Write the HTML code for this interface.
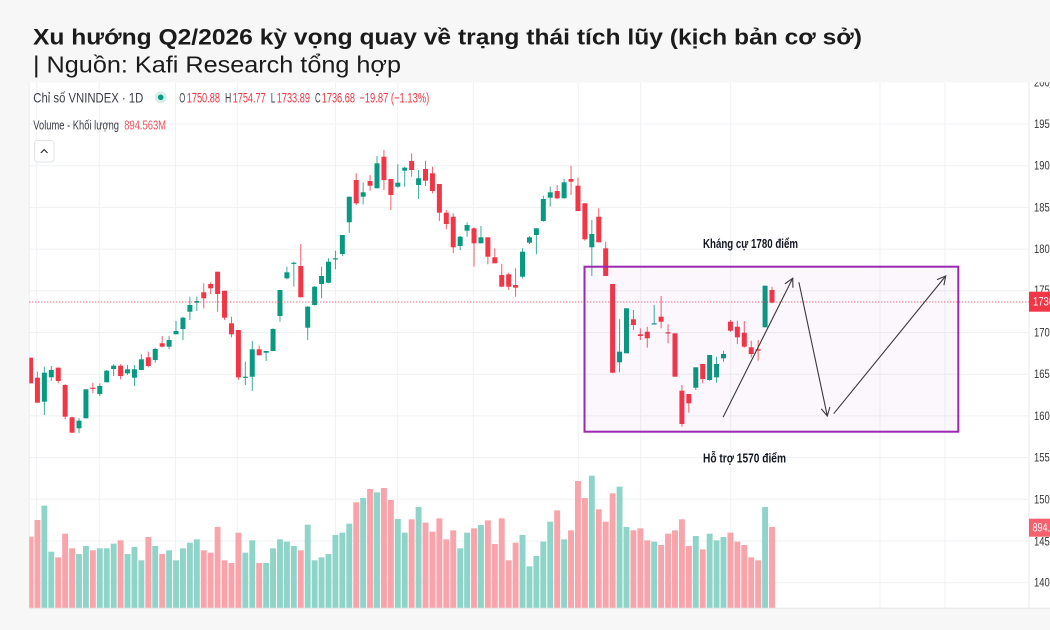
<!DOCTYPE html>
<html>
<head>
<meta charset="utf-8">
<style>
html,body{margin:0;padding:0;background:#f7f7f7;width:1050px;height:630px;overflow:hidden}
svg{display:block}
text{font-family:"Liberation Sans","Noto Sans CJK SC",sans-serif}
</style>
</head>
<body>
<svg id="root" width="1050" height="630" viewBox="0 0 1050 630" xmlns="http://www.w3.org/2000/svg">
<defs>
<clipPath id="plotClip"><rect x="29.3" y="82.3" width="999.7" height="526"/></clipPath>
<clipPath id="axisClip"><rect x="1029" y="82.3" width="21" height="526"/></clipPath>
</defs>
<rect width="1050" height="630" fill="#f7f7f7"/>
<text x="33" y="44.3" font-size="22" font-weight="bold" fill="#1b1b1b" textLength="829" lengthAdjust="spacingAndGlyphs">Xu hướng Q2/2026 kỳ vọng quay về trạng thái tích lũy (kịch bản cơ sở)</text>
<text x="33" y="72.7" font-size="23" fill="#1b1b1b" textLength="368" lengthAdjust="spacingAndGlyphs">| Nguồn: Kafi Research tổng hợp</text>

<rect x="29.3" y="82.3" width="1020.7" height="526" fill="#ffffff"/>

<g stroke="#eff1f4" stroke-width="1">
<line x1="29.3" x2="1029" y1="124.0" y2="124.0"/>
<line x1="29.3" x2="1029" y1="165.7" y2="165.7"/>
<line x1="29.3" x2="1029" y1="207.4" y2="207.4"/>
<line x1="29.3" x2="1029" y1="249.1" y2="249.1"/>
<line x1="29.3" x2="1029" y1="290.8" y2="290.8"/>
<line x1="29.3" x2="1029" y1="332.5" y2="332.5"/>
<line x1="29.3" x2="1029" y1="374.2" y2="374.2"/>
<line x1="29.3" x2="1029" y1="415.9" y2="415.9"/>
<line x1="29.3" x2="1029" y1="457.6" y2="457.6"/>
<line x1="29.3" x2="1029" y1="499.3" y2="499.3"/>
<line x1="29.3" x2="1029" y1="541.0" y2="541.0"/>
<line x1="29.3" x2="1029" y1="582.7" y2="582.7"/>
<line y1="82.3" y2="608.3" x1="36.7" x2="36.7"/>
<line y1="82.3" y2="608.3" x1="99.3" x2="99.3"/>
<line y1="82.3" y2="608.3" x1="175.5" x2="175.5"/>
<line y1="82.3" y2="608.3" x1="237.3" x2="237.3"/>
<line y1="82.3" y2="608.3" x1="335.5" x2="335.5"/>
<line y1="82.3" y2="608.3" x1="397.7" x2="397.7"/>
<line y1="82.3" y2="608.3" x1="473.3" x2="473.3"/>
<line y1="82.3" y2="608.3" x1="578.3" x2="578.3"/>
<line y1="82.3" y2="608.3" x1="640.7" x2="640.7"/>
<line y1="82.3" y2="608.3" x1="730.7" x2="730.7"/>
<line y1="82.3" y2="608.3" x1="880" x2="880"/>
<line y1="82.3" y2="608.3" x1="945" x2="945"/>
</g>
<line x1="1029" x2="1029" y1="82.3" y2="608.3" stroke="#e6e8ee" stroke-width="1"/>
<line x1="29.3" x2="1050" y1="608.3" y2="608.3" stroke="#e3e5ea" stroke-width="1"/>
<line x1="29.3" x2="29.3" y1="82.3" y2="608.3" stroke="#eceef2" stroke-width="1"/>

<g id="plot" clip-path="url(#plotClip)"></g>

<line x1="29.3" x2="1029" y1="302" y2="302" stroke="#f23645" stroke-width="1" stroke-dasharray="1 2"/>

<rect x="584.5" y="266.7" width="373.8" height="165" fill="rgba(156,39,176,0.04)" stroke="#9c27b0" stroke-width="2"/>
<g id="arrows" stroke="#3a3a3a" stroke-width="1.1" fill="none" stroke-linecap="round"></g>

<text x="703" y="248" font-size="13" font-weight="bold" fill="#131722" textLength="95" lengthAdjust="spacingAndGlyphs">Kháng cự 1780 điểm</text>
<text x="703" y="462.5" font-size="13" font-weight="bold" fill="#131722" textLength="83" lengthAdjust="spacingAndGlyphs">Hỗ trợ 1570 điểm</text>

<text x="33.3" y="102.3" font-size="14" fill="#3b3e45" textLength="110" lengthAdjust="spacingAndGlyphs">Chỉ số VNINDEX · 1D</text>
<circle cx="160.7" cy="97.3" r="6" fill="#d5efe9"/>
<circle cx="160.7" cy="97.3" r="2.8" fill="#089981"/>
<g font-size="14">
<text x="179.3" y="102.3" fill="#3b3e45" textLength="6" lengthAdjust="spacingAndGlyphs">O</text>
<text x="186.7" y="102.3" fill="#f23645" textLength="33.3" lengthAdjust="spacingAndGlyphs">1750.88</text>
<text x="225" y="102.3" fill="#3b3e45" textLength="6.3" lengthAdjust="spacingAndGlyphs">H</text>
<text x="232.7" y="102.3" fill="#f23645" textLength="33" lengthAdjust="spacingAndGlyphs">1754.77</text>
<text x="270.7" y="102.3" fill="#3b3e45" textLength="4.7" lengthAdjust="spacingAndGlyphs">L</text>
<text x="276.7" y="102.3" fill="#f23645" textLength="33.3" lengthAdjust="spacingAndGlyphs">1733.89</text>
<text x="315" y="102.3" fill="#3b3e45" textLength="5.7" lengthAdjust="spacingAndGlyphs">C</text>
<text x="321.7" y="102.3" fill="#f23645" textLength="33.3" lengthAdjust="spacingAndGlyphs">1736.68</text>
<text x="359.3" y="102.3" fill="#f23645" textLength="70" lengthAdjust="spacingAndGlyphs">−19.87 (−1.13%)</text>
</g>
<text x="33.3" y="129.5" font-size="12.5" fill="#3b3e45" textLength="85.7" lengthAdjust="spacingAndGlyphs">Volume - Khối lượng</text>
<text x="124.3" y="129.5" font-size="12.5" fill="#f7525f" textLength="41.7" lengthAdjust="spacingAndGlyphs">894.563M</text>
<rect x="34.5" y="140.5" width="19.5" height="21.5" rx="3" fill="#fff" stroke="#e0e3eb" stroke-width="1"/>
<polyline points="40.8,153 44.2,149.6 47.6,153" fill="none" stroke="#333" stroke-width="1.2"/>

<g clip-path="url(#axisClip)" font-size="11.5" fill="#333">
<text x="1034" y="86.3" textLength="21" lengthAdjust="spacingAndGlyphs">2000</text>
<text x="1034" y="128.0" textLength="21" lengthAdjust="spacingAndGlyphs">1950</text>
<text x="1034" y="169.7" textLength="21" lengthAdjust="spacingAndGlyphs">1900</text>
<text x="1034" y="211.4" textLength="21" lengthAdjust="spacingAndGlyphs">1850</text>
<text x="1034" y="253.1" textLength="21" lengthAdjust="spacingAndGlyphs">1800</text>
<text x="1034" y="293.8" textLength="21" lengthAdjust="spacingAndGlyphs">1750</text>
<text x="1034" y="336.5" textLength="21" lengthAdjust="spacingAndGlyphs">1700</text>
<text x="1034" y="378.2" textLength="21" lengthAdjust="spacingAndGlyphs">1650</text>
<text x="1034" y="419.9" textLength="21" lengthAdjust="spacingAndGlyphs">1600</text>
<text x="1034" y="461.6" textLength="21" lengthAdjust="spacingAndGlyphs">1550</text>
<text x="1034" y="503.3" textLength="21" lengthAdjust="spacingAndGlyphs">1500</text>
<text x="1034" y="545.5" textLength="21" lengthAdjust="spacingAndGlyphs">1450</text>
<text x="1034" y="586.7" textLength="21" lengthAdjust="spacingAndGlyphs">1400</text>
<rect x="1029" y="291.7" width="22" height="20" fill="#f23645"/>
<text x="1033" y="305.6" fill="#fff" textLength="34" lengthAdjust="spacingAndGlyphs">1736.68</text>
<rect x="1029" y="518.7" width="22" height="18" fill="#f7606c"/>
<text x="1032.5" y="531.7" fill="#fff" textLength="40" lengthAdjust="spacingAndGlyphs">894.563M</text>
</g>
</svg>
<script>
(function(){
var NS="http://www.w3.org/2000/svg";
function el(n,a,p){var e=document.createElementNS(NS,n);for(var k in a)e.setAttribute(k,a[k]);p.appendChild(e);return e;}
var plot=document.getElementById('plot');
var C=[
["R",357.7,383.3,357.7,383.3],["R",377.7,402.7,371.7,402.7],["G",372.7,401.7,366.7,415],["G",370,377.3,366,381],["R",367.7,381,367.3,383.3],
["R",385,416.7,384.3,419.3],["R",417.3,432.7,416.7,432.7],["G",420.7,428.3,418.3,433.3],["G",389.3,418.3,389.3,418.3],["R",387.7,388.7,382.7,393.3],
["G",386,394,383.3,396],["G",370.7,382.3,370,382.3],["G",365.7,369,364.3,376],["R",365.7,376,364.3,379.3],["G",369.3,373.3,365,375],
["G",369.3,377.7,365,386],["G",359.3,370,354.3,370],["R",357.3,366,351.7,367.3],["G",349,360,347.7,362.7],["R",343.3,346.7,336,347.3],
["G",340,346.7,336,349.3],["G",331,334.3,321,334.3],["G",317.7,329,316.7,340],["G",305,311.7,296.7,320],["G",301,302.7,296.7,311],
["R",292.3,298.3,283.3,308.3],["R",284,288.3,282.3,294],["R",271.7,294,271.7,311.7],["R",290.7,317.7,290.7,320],["R",323.3,334.3,316.7,337.3],
["R",330,377.3,330,380],["G",376.7,377.7,361.7,385],["G",349.3,376.7,341,391],["R",349.3,355.3,345.7,355.3],["G",351,352.7,351,361],
["G",329,351,328.3,351],["G",290,316,290,321.7],["G",272.3,278.3,266.7,279.3],["G",262.7,263.7,261.7,286.7],["R",266,297.3,244,297.3],
["G",306.7,327.7,306,340],["G",286.7,305,286,305.7],["G",276,284,266.7,298.3],["G",261.7,282.7,258.3,283.3],["G",258.3,259.3,250.7,269.3],
["G",235,254,235,256],["G",196.7,222.3,196.7,232.7],["R",180,203.3,173.3,205],["G",192.3,196.7,182.3,204.3],["R",181,185.7,175,190.7],
["G",163.3,188.3,156,188.3],["R",156.7,180,150,190],["R",179,195,179,210],["G",182.7,186.7,164.3,187.7],["G",167.7,170.7,166.7,186.7],
["R",161,170,153.3,176.7],["G",178.3,185,170,199],["R",169,180.7,160.7,186],["R",173.3,191,166.7,193.3],["R",184,212.7,184,221],
["R",212.7,224,210,229.3],["R",216.7,247.3,213.3,253.3],["G",236.7,246,236,250],["G",225,230.7,222.3,236.7],["R",228.3,243.3,227.3,266.7],
["G",237.3,243.3,226,243.3],["R",237.3,256.7,237.3,264.3],["R",257.3,263.3,248.3,263.3],["R",275,286.7,264,286.7],["R",274.3,286.7,272.7,290],
["R",285,287.7,268.3,296.7],["G",251.7,276.7,248.3,278.3],["G",237.3,242.7,236,244],["G",228.3,235,228.3,254.3],["G",199,221,195.7,221.7],
["G",192.3,197.7,186.7,206.7],["R",191,198.3,185,199.3],["G",182.3,198.3,179,198.3],["R",179,181.7,165.7,195],["R",185.7,211,177.7,211],
["R",203.3,239.3,203.3,240.7],["G",234,247.3,220,276],["R",216.7,242.3,208.3,242.3],["R",248.3,276,241.7,276],["R",284,372.7,284,373.3],
["G",351.7,362.3,319.3,372.3],["G",308.3,353.3,308.3,353.3],["R",319.3,325,310,330],["R",334.3,336,328.3,340],["R",331.7,338.3,326.7,347.7],
["G",323.3,324.3,305,324.3],["R",316.7,321.7,296,328.3],["R",332.3,333.3,324.3,343.3],["R",333.3,376.7,333.3,376.7],["R",390.7,424,385,426.7],
["R",394,403.3,394,412.7],["G",367.3,387.7,367.3,390],["R",364,379,364,383.3],["G",355,380,355,380.7],["G",364,377.3,356.7,382.7],
["G",354,358.3,350.7,361.7],["R",321.7,330.7,320,331.7],["R",326.7,337.3,320.7,344],["R",332.7,346.7,321,347.7],["R",347.3,354,340.7,357.3],
["R",349.3,350.7,340,360.7],["G",285.7,327.3,285.7,327.3],["R",290,302.7,286.7,303.3]
];
var V=[200,150,107,245,262,191,235,252,228,241,
235,235,221,211,252,231,271,201,228,252,
241,271,235,218,208,241,248,171,271,279,
188,248,211,279,279,235,208,215,228,241,
164,271,262,252,195,188,161,97,84,57,
67,54,90,147,188,148,111,158,185,145,
208,181,235,188,175,165,151,222,145,271,
218,195,289,258,215,155,121,208,181,33,
84,17,118,155,70,50,171,181,175,211,
215,225,191,181,148,228,198,238,191,211,
201,188,215,225,262,271,111,171];
var base=607.8;
for(var i=0;i<V.length;i++){
  var x=30.5+6.93*i, y=470+V[i]/3;
  var col=C[i][0]==="G"?"#8fd4c8":"#f9a3ab";
  el('rect',{x:(x-2.95).toFixed(2),y:y.toFixed(2),width:5.9,height:(base-y).toFixed(2),fill:col},plot);
}
for(var i=0;i<C.length;i++){
  var c=C[i], x=30.5+6.93*i;
  var col=c[0]==="G"?"#089981":"#f23645";
  el('line',{x1:x.toFixed(2),x2:x.toFixed(2),y1:c[3],y2:c[4],stroke:col,'stroke-width':1,'stroke-opacity':0.8},plot);
  var h=Math.max(c[2]-c[1],1.2);
  el('rect',{x:(x-2.5).toFixed(2),y:c[1],width:5,height:h.toFixed(2),fill:col},plot);
}
var ag=document.getElementById('arrows');
function arrow(x1,y1,x2,y2){
  el('line',{x1:x1,y1:y1,x2:x2,y2:y2},ag);
  var dx=x2-x1,dy=y2-y1,L=Math.sqrt(dx*dx+dy*dy);
  var bx=-dx/L,by=-dy/L,a=0.49,cs=Math.cos(a),sn=Math.sin(a),len=9;
  var p1x=x2+len*(bx*cs-by*sn),p1y=y2+len*(bx*sn+by*cs);
  var p2x=x2+len*(bx*cs+by*sn),p2y=y2+len*(-bx*sn+by*cs);
  el('polyline',{points:p1x.toFixed(2)+","+p1y.toFixed(2)+" "+x2+","+y2+" "+p2x.toFixed(2)+","+p2y.toFixed(2)},ag);
}
arrow(723.3,416.7,792.7,278.3);
arrow(799,282.7,827.3,416);
arrow(834,413.3,945.7,276);
})();
</script>
</body>
</html>
